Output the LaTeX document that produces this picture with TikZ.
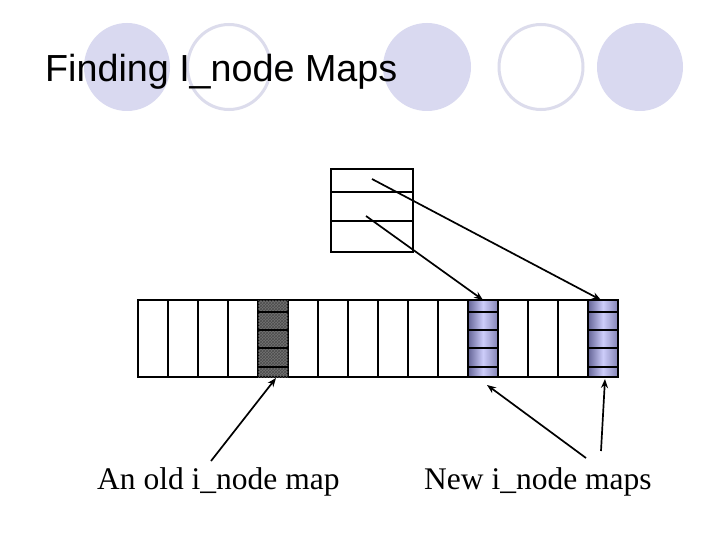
\documentclass[tikz,border=0pt]{standalone}
\usepackage{fontspec}
\setmainfont{Liberation Serif}
\newfontfamily\arialfont{Liberation Sans}
\usetikzlibrary{arrows.meta,patterns}
\definecolor{lav}{RGB}{217,217,240}
\definecolor{lavline}{RGB}{220,220,236}
\definecolor{bluedark}{RGB}{100,100,150}
\definecolor{bluelight}{RGB}{205,205,250}
\definecolor{hatchgray}{RGB}{115,115,115}
\begin{document}
\begin{tikzpicture}[x=1pt,y=-1pt,
  dotfill/.style={fill=lav,draw=none},
  dotring/.style={draw=lavline,line width=3pt,fill=white},
  cellbox/.style={draw=black,line width=2.8pt,fill=white},
  oldcol/.style={draw=black,line width=2.8pt,fill=hatchgray,postaction={pattern=crosshatch,pattern color=black!70}},
  newcol/.style={draw=black,line width=2.8pt,left color=bluedark,right color=bluedark!70!bluelight,middle color=bluelight},
  sub/.style={draw=black,line width=2.2pt},
  ptr/.style={draw=black,line width=1.7pt,-{Stealth[length=9pt,width=7pt]}},
  lbl/.style={font=\fontsize{31.5}{36}\selectfont,inner sep=0pt,anchor=base west}
]
\useasboundingbox (0,0) rectangle (720,540);
\fill[white] (0,0) rectangle (720,540);
% decorative circles
\path[dotfill] (127,67) ellipse [x radius=43,y radius=44];
\path[dotring] (229,67) ellipse [x radius=41.5,y radius=42.5];
\path[dotfill] (427,67) ellipse [x radius=44,y radius=44];
\path[dotring] (541,67) ellipse [x radius=42,y radius=42.5];
\path[dotfill] (640,67) ellipse [x radius=43,y radius=44];
% title
\node[inner sep=0pt,anchor=base west,font=\arialfont\fontsize{37.7}{42}\selectfont] (title) at (45,82) {Finding I\_node Maps};
% top box
\draw[black,line width=2pt] (331,169) rectangle (413,252);
\draw[black,line width=2pt] (331,192) -- (413,192);
\draw[black,line width=2pt] (331,221) -- (413,221);
\coordinate (p1) at (372,179);
\coordinate (p2) at (366,216);
% strip of 16 cells
\foreach \i in {0,...,15} {
  \path[cellbox] ({138+30*\i},300) rectangle ({168+30*\i},377);
}
\path[oldcol] (258,300) rectangle (288,377);
\path[newcol] (468,300) rectangle (498,377);
\path[newcol] (588,300) rectangle (618,377);
\foreach \x in {258,468,588} {
  \foreach \y in {312,330,348,367} {
    \draw[sub] (\x,\y) -- ({\x+30},\y);
  }
}
\coordinate (oldb) at (276,378);
\coordinate (newat) at (483,300);
\coordinate (newbt) at (601,300);
\coordinate (newab) at (487,385);
\coordinate (newbb) at (605,379);
% labels
\node[lbl] (oldlbl) at (97,489) {An old i\_node map};
\node[lbl] (newlbl) at (424,489) {New i\_node maps};
\coordinate (t1) at (211,461);
\coordinate (t2) at (586,458);
\coordinate (t3) at (601,451);
% arrows
\draw[ptr] (p1) -- (newbt);
\draw[ptr] (p2) -- (newat);
\draw[ptr] (t1) -- (oldb);
\draw[ptr] (t2) -- (newab);
\draw[ptr] (t3) -- (newbb);
\end{tikzpicture}
\end{document}
